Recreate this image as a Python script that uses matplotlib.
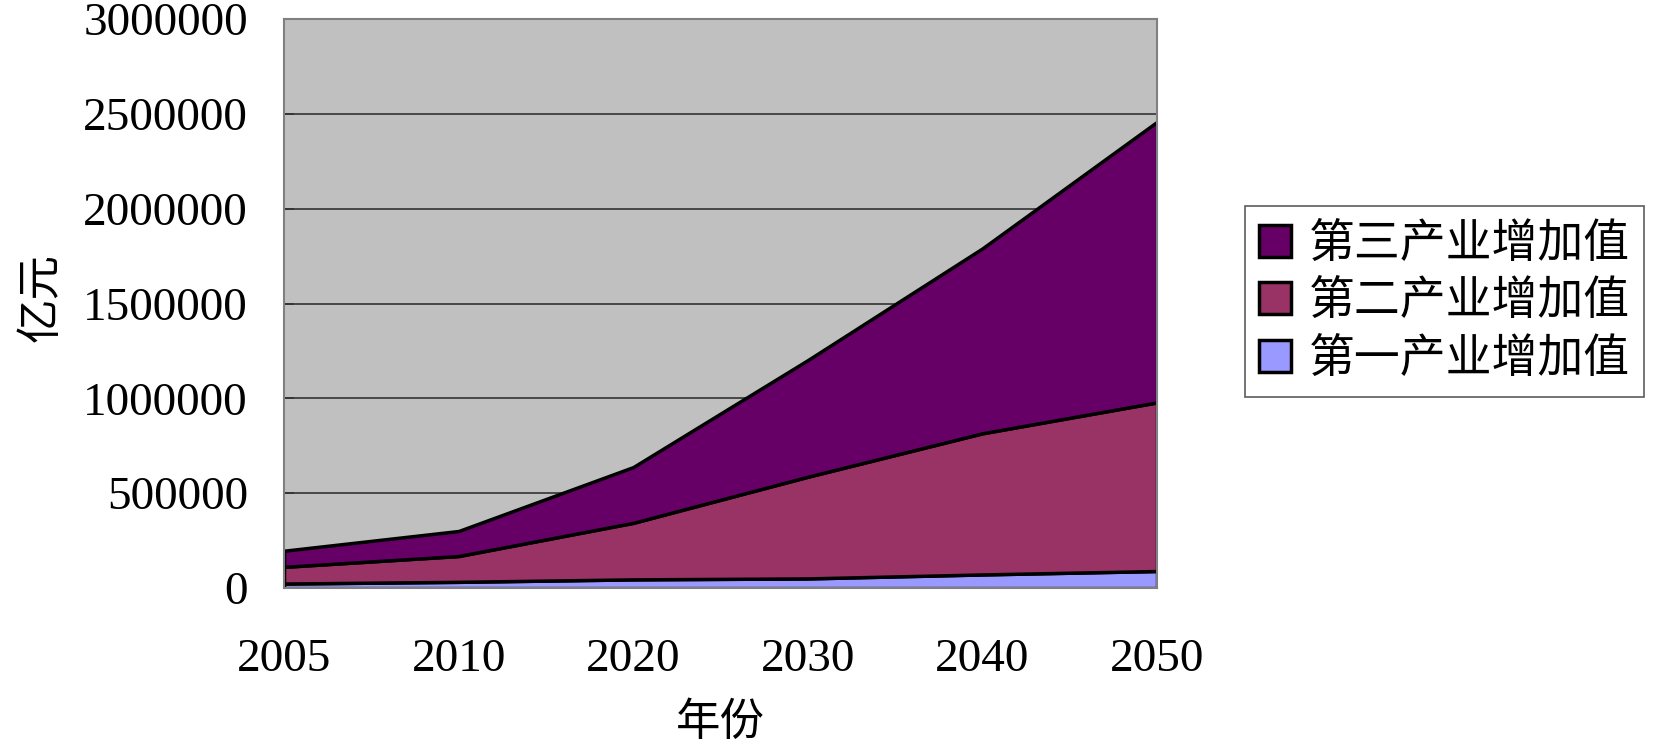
import matplotlib
matplotlib.use('Agg')
import matplotlib.pyplot as plt
import numpy as np
from matplotlib.ticker import FuncFormatter

plt.rcParams['font.family'] = ['Liberation Serif', 'Noto Sans CJK SC', 'DejaVu Sans']

years = ['2005', '2010', '2020', '2030', '2040', '2050']
primary = [24000, 33000, 46000, 51000, 72000, 90000]
secondary = [88000, 136000, 298000, 536000, 744000, 889000]
tertiary = [85000, 132000, 294000, 615000, 975000, 1479000]
names = ['第一产业增加值', '第二产业增加值', '第三产业增加值']
colors = ['#9999FF', '#993366', '#660066']

fig = plt.figure(figsize=(16.61, 7.53), dpi=100)
ax = fig.add_axes([0.171, 0.219, 0.5256, 0.7558])

x = np.arange(len(years))
polys = ax.stackplot(x, primary, secondary, tertiary, colors=colors,
                     edgecolor='black', linewidth=2.5, labels=names, zorder=3)

ax.set_facecolor('#C0C0C0')
ax.set_xlim(0, len(years) - 1)
ax.set_ylim(0, 3000000)
ax.set_yticks(np.arange(0, 3000001, 500000))
ax.yaxis.set_major_formatter(FuncFormatter(lambda v, p: '%d' % v))
ax.set_xticks(x)
ax.set_xticklabels(years)
ax.yaxis.grid(True, color='#333333', linewidth=1.2, zorder=1)
ax.set_axisbelow(True)
for s in ax.spines.values():
    s.set_color('#808080')
    s.set_linewidth(1.5)
    s.set_zorder(4)

ax.tick_params(axis='both', direction='in', length=7, width=1.2,
               color='#333333', labelsize=34)
ax.tick_params(axis='x', pad=36)
ax.tick_params(axis='y', pad=26)
for lbl in ax.get_yticklabels() + ax.get_xticklabels():
    lbl.set_fontfamily('Liberation Serif')

ax.set_ylabel('亿元', fontsize=32, family=['Noto Sans CJK SC'])
ax.yaxis.set_label_coords(-0.252, 0.51)
ax.set_xlabel('年份', fontsize=32, family=['Noto Sans CJK SC'])
ax.xaxis.set_label_coords(0.5, -0.195)

h, l = ax.get_legend_handles_labels()
leg = fig.legend(h[::-1], l[::-1], loc='center left',
                 bbox_to_anchor=(0.7496, 0.600),
                 prop={'family': 'Noto Sans CJK SC', 'size': 33},
                 frameon=True, fancybox=False, edgecolor='#333333',
                 handlelength=0.7, handleheight=0.7, handletextpad=0.4,
                 borderpad=0.3, labelspacing=0.2, borderaxespad=0)
leg.get_frame().set_linewidth(1.2)

fig.savefig('out.png', dpi=100)
